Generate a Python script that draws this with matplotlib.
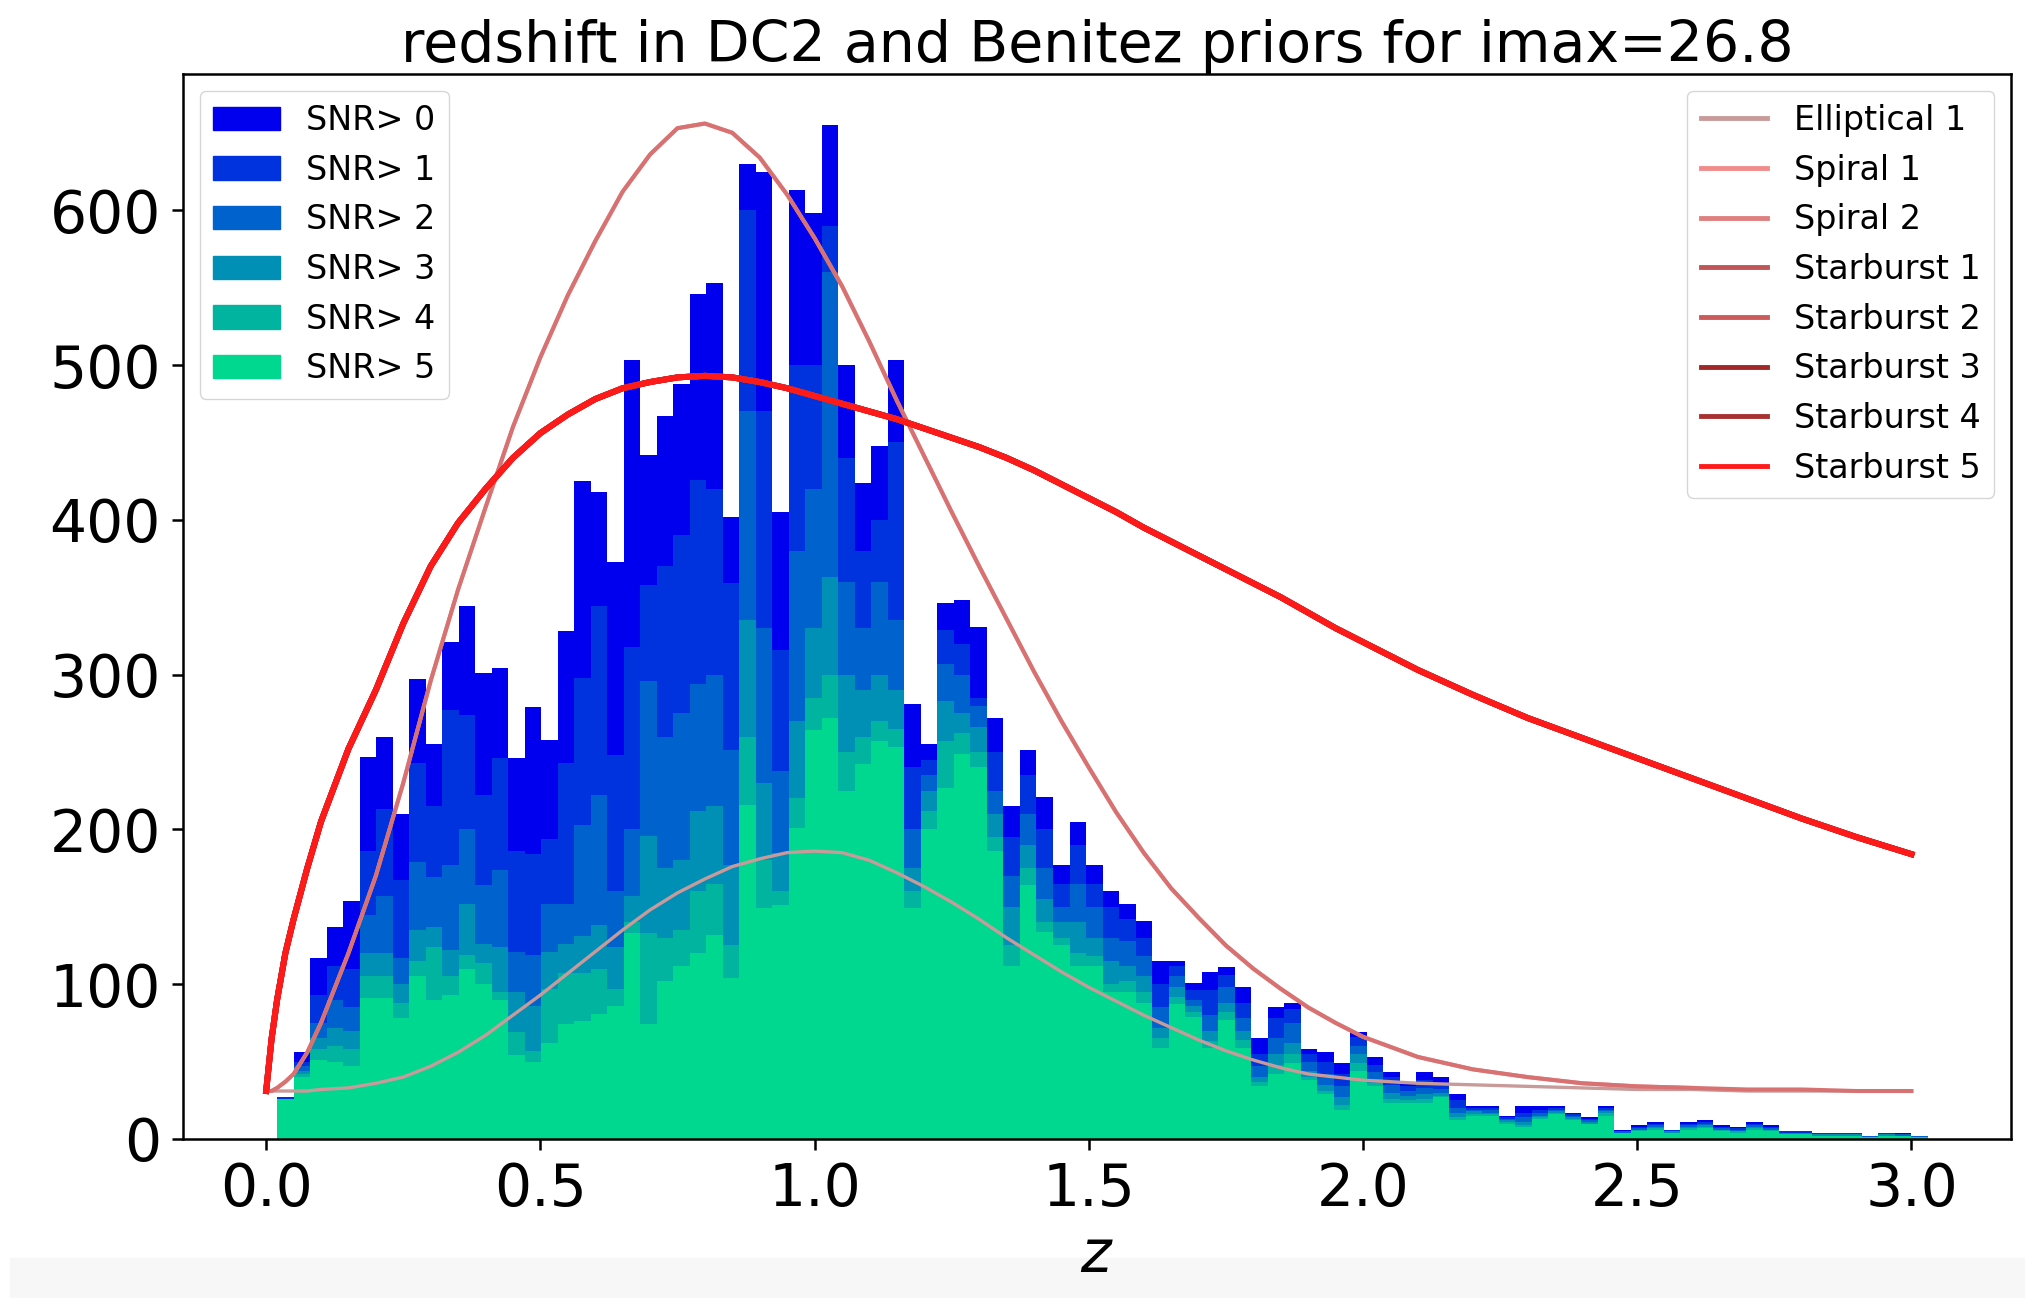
import numpy as np
import matplotlib
matplotlib.use("Agg")
import matplotlib.pyplot as plt
from matplotlib.patches import Patch, Rectangle

# histogram binning (100 bins over the redshift range of the sample)
z_lo, z_hi, n_bins = 0.02, 3.03, 100

snr_labels = ['SNR> 0', 'SNR> 1', 'SNR> 2', 'SNR> 3', 'SNR> 4', 'SNR> 5']
snr_colors = ['#0000ee', '#0033dd', '#0062cc', '#008fb5', '#00b4a0', '#00d890']

# counts per bin
snr0 = [27, 56, 117, 137, 154, 247, 260, 210, 297, 255,
        321, 344, 301, 304, 246, 279, 258, 328, 425, 418,
        373, 503, 442, 467, 488, 546, 553, 402, 630, 625,
        405, 613, 598, 655, 500, 424, 448, 503, 281, 255,
        346, 348, 331, 272, 215, 251, 221, 177, 205, 177,
        160, 152, 141, 115, 115, 101, 108, 111, 98, 65,
        85, 88, 58, 56, 49, 69, 53, 43, 36, 43,
        40, 29, 21, 21, 15, 21, 21, 21, 17, 14,
        21, 6, 9, 11, 6, 11, 12, 9, 8, 11,
        9, 5, 5, 4, 4, 4, 2, 4, 4, 2]
snr1 = [27, 50, 93, 112, 110, 186, 213, 167, 243, 215,
        277, 274, 222, 246, 186, 184, 194, 243, 298, 344,
        248, 318, 358, 370, 390, 426, 420, 359, 600, 470,
        316, 500, 500, 590, 440, 380, 400, 450, 240, 245,
        329, 320, 285, 250, 195, 235, 200, 165, 190, 165,
        150, 142, 130, 100, 112, 96, 96, 106, 88, 55,
        78, 84, 55, 50, 42, 66, 48, 40, 34, 38,
        36, 25, 20, 20, 14, 17, 19, 20, 16, 13,
        20, 5, 8, 10, 6, 10, 11, 8, 7, 10,
        8, 5, 5, 4, 4, 4, 2, 4, 3, 2]
snr2 = [26, 47, 75, 90, 85, 145, 157, 117, 179, 169,
        177, 200, 164, 174, 121, 119, 152, 152, 203, 222,
        160, 200, 296, 260, 275, 294, 300, 251, 470, 330,
        238, 380, 420, 560, 360, 330, 360, 335, 200, 235,
        307, 300, 280, 225, 170, 210, 175, 150, 165, 150,
        130, 128, 118, 85, 105, 90, 80, 98, 78, 47,
        65, 75, 50, 42, 34, 60, 43, 35, 31, 33,
        32, 20, 19, 19, 13, 14, 17, 19, 15, 12,
        19, 5, 7, 9, 5, 9, 10, 7, 6, 9,
        7, 4, 4, 3, 3, 3, 2, 3, 3, 2]
snr3 = [26, 44, 65, 72, 70, 120, 120, 100, 135, 137,
        122, 152, 126, 124, 95, 86, 121, 126, 131, 138,
        124, 157, 196, 175, 180, 212, 215, 177, 335, 230,
        185, 270, 330, 363, 300, 290, 300, 290, 175, 225,
        283, 275, 266, 210, 150, 190, 155, 140, 140, 130,
        115, 112, 105, 72, 98, 86, 70, 88, 70, 40,
        55, 62, 44, 35, 27, 55, 39, 30, 28, 29,
        30, 17, 18, 17, 12, 11, 15, 18, 14, 11,
        18, 4, 6, 8, 5, 8, 9, 6, 5, 8,
        6, 4, 4, 3, 3, 3, 1, 3, 2, 1]
snr4 = [26, 42, 58, 60, 58, 105, 105, 88, 115, 124,
        105, 119, 114, 95, 69, 57, 97, 107, 107, 110,
        97, 140, 133, 130, 135, 160, 165, 125, 260, 180,
        160, 220, 285, 300, 250, 260, 270, 265, 160, 212,
        257, 262, 250, 195, 125, 175, 140, 130, 120, 118,
        100, 102, 95, 65, 92, 82, 63, 82, 64, 37,
        48, 55, 40, 31, 22, 49, 36, 26, 25, 26,
        28, 14, 16, 16, 11, 9, 14, 17, 13, 10,
        17, 4, 6, 7, 4, 7, 8, 6, 5, 7,
        6, 3, 3, 2, 2, 2, 1, 2, 2, 1]
snr5 = [26, 40, 51, 50, 47, 91, 91, 78, 105, 90,
        93, 110, 100, 90, 54, 50, 62, 74, 76, 81,
        86, 133, 74, 102, 112, 120, 132, 104, 216, 149,
        151, 201, 264, 272, 225, 242, 257, 253, 149, 200,
        227, 249, 240, 186, 112, 164, 134, 125, 112, 112,
        95, 95, 88, 59, 87, 79, 59, 77, 59, 34,
        42, 49, 38, 29, 19, 44, 34, 23, 23, 23,
        27, 12, 15, 15, 10, 8, 13, 16, 12, 10,
        15, 4, 5, 6, 4, 6, 7, 5, 4, 6,
        5, 3, 3, 2, 2, 2, 1, 2, 2, 1]
snr_counts = [snr0, snr1, snr2, snr3, snr4, snr5]

# prior curves (rescaled), sampled on zc
zc = [0.0, 0.01, 0.02, 0.035, 0.05, 0.075, 0.1, 0.15, 0.2, 0.25, 0.3, 0.35, 0.4,
      0.45, 0.5, 0.55, 0.6, 0.65, 0.7, 0.75, 0.8, 0.85, 0.9,
      0.95, 1.0, 1.05, 1.1, 1.15, 1.2, 1.25, 1.3, 1.35, 1.4,
      1.45, 1.5, 1.55, 1.6, 1.65, 1.7, 1.75, 1.8, 1.85, 1.9,
      1.95, 2.0, 2.1, 2.2, 2.3, 2.4, 2.5, 2.6, 2.7, 2.8,
      2.9, 3.0]
elliptical = [31, 31, 31, 31, 31, 31, 32, 33, 36, 40, 47, 56, 67,
              80, 93, 107, 121, 135, 148, 159, 168, 176, 181,
              185, 186, 185, 180, 172, 163, 153, 142, 130, 119,
              108, 98, 89, 80, 72, 64, 57, 51, 46, 42,
              40, 38, 36, 35, 34, 33, 32, 32, 31, 31,
              31, 31]
spiral = [31, 31, 33, 37, 42, 56, 75, 120, 170, 230, 296, 355, 408,
          460, 505, 545, 580, 612, 636, 653, 656, 650, 634,
          610, 582, 551, 515, 477, 441, 405, 370, 336, 302,
          270, 240, 211, 185, 162, 143, 125, 110, 97, 85,
          75, 66, 53, 45, 40, 36, 34, 33, 32, 32,
          31, 31]
starburst = [31, 65, 90, 120, 142, 175, 205, 252, 290, 333, 370, 398, 420,
             440, 456, 468, 478, 485, 489, 492, 493, 492, 489,
             485, 480, 475, 470, 465, 459, 453, 447, 440, 432,
             423, 414, 405, 395, 386, 377, 368, 359, 350, 340,
             330, 321, 303, 287, 272, 259, 246, 233, 220, 207,
             195, 184]
spiral1_end = 2.6  # first spiral prior is only tabulated up to here

prior_labels = ['Elliptical 1', 'Spiral 1', 'Spiral 2', 'Starburst 1', 'Starburst 2',
                'Starburst 3', 'Starburst 4', 'Starburst 5']
prior_colors = ['#c99a9a', '#f08c8c', '#df8080', '#c05555', '#cc5a5a',
                '#a02828', '#a83232', '#ff1a1a']

fig = plt.figure(figsize=(20.25, 12.98), dpi=100)
ax = fig.add_axes([0.0904, 0.1225, 0.9027, 0.8205])

edges = np.linspace(z_lo, z_hi, n_bins + 1)
centers = 0.5 * (edges[:-1] + edges[1:])
for counts, col, lab in zip(snr_counts, snr_colors, snr_labels):
    ax.hist(centers, bins=edges, weights=counts, color=col, label=lab)

zc = np.array(zc)
n1 = np.searchsorted(zc, spiral1_end) + 1
curves = [(zc, elliptical, 2.4), (zc[:n1], spiral[:n1], 2.9), (zc, spiral, 2.9),
          (zc, starburst, 4.3), (zc, starburst, 4.3), (zc, starburst, 4.3),
          (zc, starburst, 4.3), (zc, starburst, 4.3)]
lines = []
for (x, y, lw), col, lab in zip(curves, prior_colors, prior_labels):
    ln, = ax.plot(x, y, color=col, lw=lw, label=lab, solid_joinstyle='round')
    lines.append(ln)
lines[2].set_color('#d87272')

ax.set_xlim(-0.1515, 3.1815)
ax.set_ylim(0, 688)
ax.set_xticks([0.0, 0.5, 1.0, 1.5, 2.0, 2.5, 3.0])
ax.tick_params(labelsize=42, length=8, width=1.8, pad=8)
for s in ax.spines.values():
    s.set_linewidth(1.8)

hist_handles = [Patch(color=c, label=l) for c, l in zip(snr_colors, snr_labels)]
leg1 = ax.legend(handles=hist_handles, loc='upper left', fontsize=24)
ax.add_artist(leg1)
leg_lines = [plt.Line2D([], [], color=c, lw=3.5) for c in prior_colors]
ax.legend(leg_lines, prior_labels, loc='upper right', fontsize=24)

ax.set_title('redshift in DC2 and Benitez priors for imax=26.8', fontsize=41, pad=8)
ax.set_xlabel('$z$', fontsize=42, labelpad=6)

fig.patches.append(Rectangle((0.005, 0.0), 0.995, 0.031, transform=fig.transFigure,
                             color='#f7f7f7', zorder=-1))

fig.savefig('out.png', dpi=100)
